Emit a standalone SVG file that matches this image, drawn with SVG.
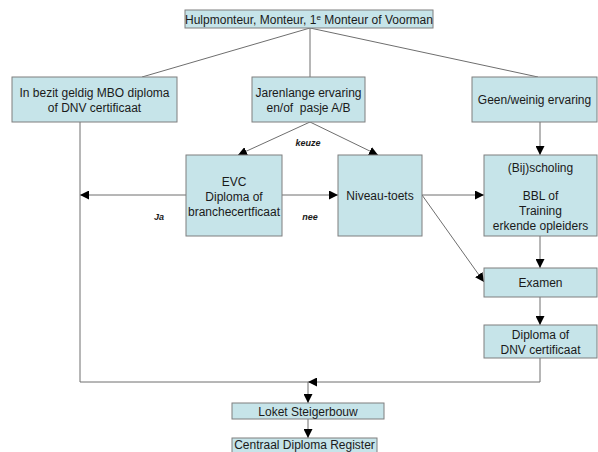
<svg xmlns="http://www.w3.org/2000/svg" width="598" height="452" viewBox="0 0 598 452">
<style>
.box{fill:#c6e4e9;stroke:#7f7f7f;stroke-width:1}
.t{font-family:"Liberation Sans",Arial,sans-serif;font-size:12px;fill:#1a1a1a;text-anchor:middle}
.lbl{font-family:"Liberation Sans",Arial,sans-serif;font-size:9px;font-weight:bold;font-style:italic;fill:#1a1a1a;text-anchor:middle}
.ln{stroke:#6e6e6e;stroke-width:1;fill:none}
.ar{stroke:#6e6e6e;stroke-width:1;fill:none;marker-end:url(#ah)}
</style>
<defs>
<marker id="ah" viewBox="0 0 10 10" refX="10" refY="5" markerWidth="9" markerHeight="9" markerUnits="userSpaceOnUse" orient="auto">
<path d="M0,0 L10,5 L0,10 z" fill="#000"/>
</marker>
</defs>
<rect width="598" height="452" fill="#fff"/>
<g id="connectors">
<line class="ln" x1="310" y1="28" x2="142" y2="77"/>
<line class="ln" x1="310" y1="28" x2="310" y2="77"/>
<line class="ln" x1="310" y1="28" x2="538" y2="77"/>
<line class="ar" x1="310" y1="122" x2="238" y2="155"/>
<line class="ar" x1="310" y1="122" x2="378" y2="155"/>
<line class="ar" x1="186" y1="195" x2="80" y2="195"/>
<line class="ar" x1="282" y1="195" x2="338" y2="195"/>
<line class="ar" x1="422" y1="195" x2="484" y2="195"/>
<line class="ar" x1="422" y1="195" x2="484" y2="282"/>
<line class="ar" x1="540" y1="122" x2="540" y2="155"/>
<line class="ar" x1="540" y1="236" x2="540" y2="268"/>
<line class="ar" x1="540" y1="297" x2="540" y2="325"/>
<line class="ln" x1="80" y1="122" x2="80" y2="382"/>
<line class="ln" x1="80" y1="382" x2="308" y2="382"/>
<polyline class="ar" points="540,358 540,382 308,382"/>
<line class="ar" x1="308" y1="382" x2="308" y2="403"/>
<line class="ar" x1="308" y1="419" x2="308" y2="438"/>
<text class="lbl" x="308" y="146">keuze</text>
<text class="lbl" x="159" y="220">Ja</text>
<text class="lbl" x="310" y="220">nee</text>
</g>
<g id="top">
<rect class="box" x="185" y="10" width="248" height="18"/>
<text class="t" x="309" y="24">Hulpmonteur, Monteur, 1<tspan font-size="8" dy="-4">e</tspan><tspan dy="4"> Monteur of Voorman</tspan></text>
</g>
<g id="mbo">
<rect class="box" x="12" y="77" width="165" height="45"/>
<text class="t" x="94.5" y="97">In bezit geldig MBO diploma</text>
<text class="t" x="94.5" y="112">of DNV certificaat</text>
</g>
<g id="ervaring">
<rect class="box" x="252" y="77" width="113" height="45"/>
<text class="t" x="308.5" y="97">Jarenlange ervaring</text>
<text class="t" x="308.5" y="112">en/of&#160; pasje A/B</text>
</g>
<g id="geen">
<rect class="box" x="472" y="77" width="125" height="45"/>
<text class="t" x="534.5" y="104">Geen/weinig ervaring</text>
</g>
<g id="evc">
<rect class="box" x="186" y="155" width="96" height="81"/>
<text class="t" x="234" y="186">EVC</text>
<text class="t" x="234" y="201">Diploma of</text>
<text class="t" x="234" y="216">branchecertficaat</text>
</g>
<g id="niveau">
<rect class="box" x="338" y="155" width="84" height="81"/>
<text class="t" x="380" y="200">Niveau-toets</text>
</g>
<g id="bijscholing">
<rect class="box" x="484" y="155" width="113" height="81"/>
<text class="t" x="540.5" y="172">(Bij)scholing</text>
<text class="t" x="540.5" y="200">BBL of</text>
<text class="t" x="540.5" y="215">Training</text>
<text class="t" x="540.5" y="230">erkende opleiders</text>
</g>
<g id="examen">
<rect class="box" x="484" y="268" width="113" height="29"/>
<text class="t" x="540.5" y="287">Examen</text>
</g>
<g id="diploma">
<rect class="box" x="484" y="325" width="113" height="33"/>
<text class="t" x="540.5" y="339">Diploma of</text>
<text class="t" x="540.5" y="354">DNV certificaat</text>
</g>
<g id="loket">
<rect class="box" x="232" y="403" width="152" height="16"/>
<text class="t" x="308" y="416">Loket Steigerbouw</text>
</g>
<g id="register">
<rect class="box" x="232" y="438" width="145" height="20"/>
<text class="t" x="304.5" y="449" font-size="11.5">Centraal Diploma Register</text>
</g>
</svg>
